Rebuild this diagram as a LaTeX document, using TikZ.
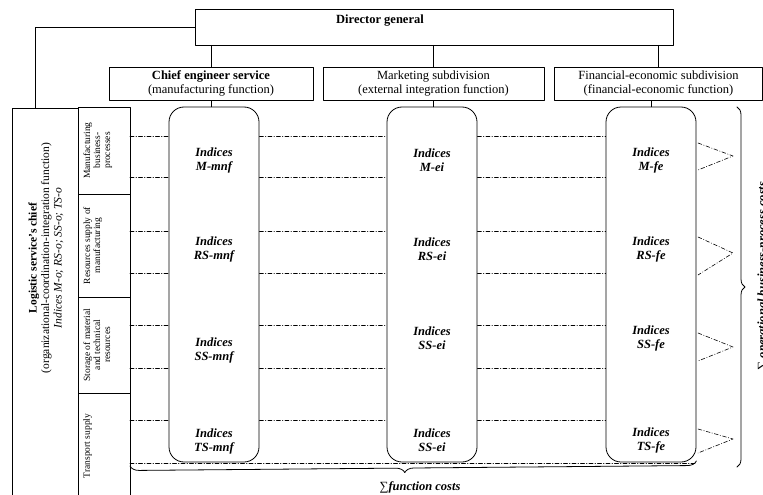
\documentclass[tikz,border=0pt]{standalone}
\usepackage{fontspec}
\setmainfont{Liberation Serif}
\usetikzlibrary{positioning,decorations.pathreplacing}

\begin{document}
\begin{tikzpicture}[line cap=round,line join=round,x=1pt,y=-1pt,line width=0.8pt,
  box/.style={draw,rectangle,minimum height=33pt,align=center,inner sep=1pt,font=\fontsize{12.5}{13.5}\selectfont},
  col/.style={draw,rectangle,rounded corners=15pt,minimum width=90pt,minimum height=355pt},
  side/.style={draw,rectangle,minimum width=52pt,inner sep=0pt},
  sidetxt/.style={rotate=90,align=center,inner sep=1pt,font=\fontsize{9.5}{10}\selectfont},
  idx/.style={align=center,font=\fontsize{12.5}{14}\selectfont\bfseries\itshape},
  dd/.style={dash pattern=on 4pt off 2pt on 0.5pt off 2pt,line width=0.6pt},
  brc/.style={decorate,decoration={brace,amplitude=8pt}}]
\useasboundingbox (0,0) rectangle (763,495);
% top level
\node[box,minimum width=478pt,minimum height=36pt] (dir) at (434,27) {};
\node[font=\fontsize{12.5}{14}\selectfont\bfseries] (dirtxt) at (380,21) {Director general};
\node[box,minimum width=204pt] (ces) at (211,83.5) {\textbf{Chief engineer service}\\(manufacturing function)};
\node[box,minimum width=221pt] (mkt) at (433.5,83.5) {Marketing subdivision\\(external integration function)};
\node[box,minimum width=208pt] (fin) at (658.5,83.5) {Financial-economic subdivision\\(financial-economic function)};
% function columns
\node[col] (mnf) at (214,284.5) {};
\node[col] (ei) at (432,284.5) {};
\node[col] (fe) at (651,284.5) {};
% logistic chief and business-processes
\node[draw,minimum width=66pt,minimum height=500pt,anchor=north west,inner sep=0pt] (lsc) at (12,108) {};
\node[rotate=90,align=center,font=\fontsize{11.5}{12.5}\selectfont] (lsctxt) at (46,258) {\textbf{Logistic service’s chief}\\(organizational-coordination-integration function)\\\textit{Indices M-o; RS-o; SS-o; TS-o}};
\node[side,minimum height=87pt] (mbp) at (104,150.5) {};
\node[side,minimum height=103pt] (rsm) at (104,245.5) {};
\node[side,minimum height=96pt] (smr) at (104,345) {};
\node[side,minimum height=200pt] (tsp) at (104,493) {};
\node[sidetxt,anchor=north] (mbptxt) at (82,150.5) {Manufacturing\\business-\\processes};
\node[sidetxt,anchor=north] (rsmtxt) at (82,245.5) {Resources supply of\\manufacturing};
\node[sidetxt,anchor=north] (smrtxt) at (82,345) {Storage of material\\and technical\\resources};
\node[sidetxt,anchor=north] (tsptxt) at (82,446) {Transport supply};
% connectors
\draw (dir.west) -| ([xshift=23pt]lsc.north west);
\draw (ces.north) -- (ces.north |- dir.south);
\draw (mkt.north) -- (mkt.north |- dir.south);
\draw (fin.north) -- (fin.north |- dir.south);
\draw (ces.south) -- (ces.south |- mnf.north);
\draw (mkt.south) -- (mkt.south |- ei.north);
\draw (fe.north) -- (fe.north |- fin.south);
% indices
\node[idx] (mmnf) at (mnf |- 0,160) {Indices\\M-mnf};
\node[idx] (rsmnf) at (mnf |- 0,249) {Indices\\RS-mnf};
\node[idx] (ssmnf) at (mnf |- 0,350) {Indices\\SS-mnf};
\node[idx] (tsmnf) at (mnf |- 0,441) {Indices\\TS-mnf};
\node[idx] (mei) at (ei |- 0,160) {Indices\\M-ei};
\node[idx] (rsei) at (ei |- 0,249) {Indices\\RS-ei};
\node[idx] (ssei) at (ei |- 0,338) {Indices\\SS-ei};
\node[idx] (tsei) at (ei |- 0,440) {Indices\\SS-ei};
\node[idx] (mfe) at (fe |- 0,160) {Indices\\M-fe};
\node[idx] (rsfe) at (fe |- 0,249) {Indices\\RS-fe};
\node[idx] (ssfe) at (fe |- 0,338) {Indices\\SS-fe};
\node[idx] (tsfe) at (fe |- 0,440) {Indices\\TS-fe};
% dash-dot rows
\foreach \y in {136,177,231,273,325,368,420}{
  \draw[dd] (130,\y) -- (mnf.west |- 0,\y);
  \draw[dd] (mnf.east |- 0,\y) -- (ei.west |- 0,\y);
  \draw[dd] (ei.east |- 0,\y) -- (fe.west |- 0,\y);
}
\draw[dd] (130,463) -- (fe.east |- 0,463);
\foreach \a/\m/\b in {143/156/170,237/253/275,333/347/361,429/439/453}
  \draw[dd] (698,\a) -- (733,\m) -- (698,\b);
% sums
\draw[brc] (737,107) -- (737,467);
\draw[decorate,decoration={brace,amplitude=9pt,aspect=0.515}] (fe.east |- 0,461) -- (130,466);
\node[font=\fontsize{12.5}{14}\selectfont\bfseries\itshape] (fcost) at (420,487) {{\normalfont ∑}function costs};
\node[rotate=90,anchor=base,font=\fontsize{12.5}{14}\selectfont\bfseries\itshape] (bpcost) at (766,276) {{\normalfont ∑} operational business-process costs};
\end{tikzpicture}
\end{document}
